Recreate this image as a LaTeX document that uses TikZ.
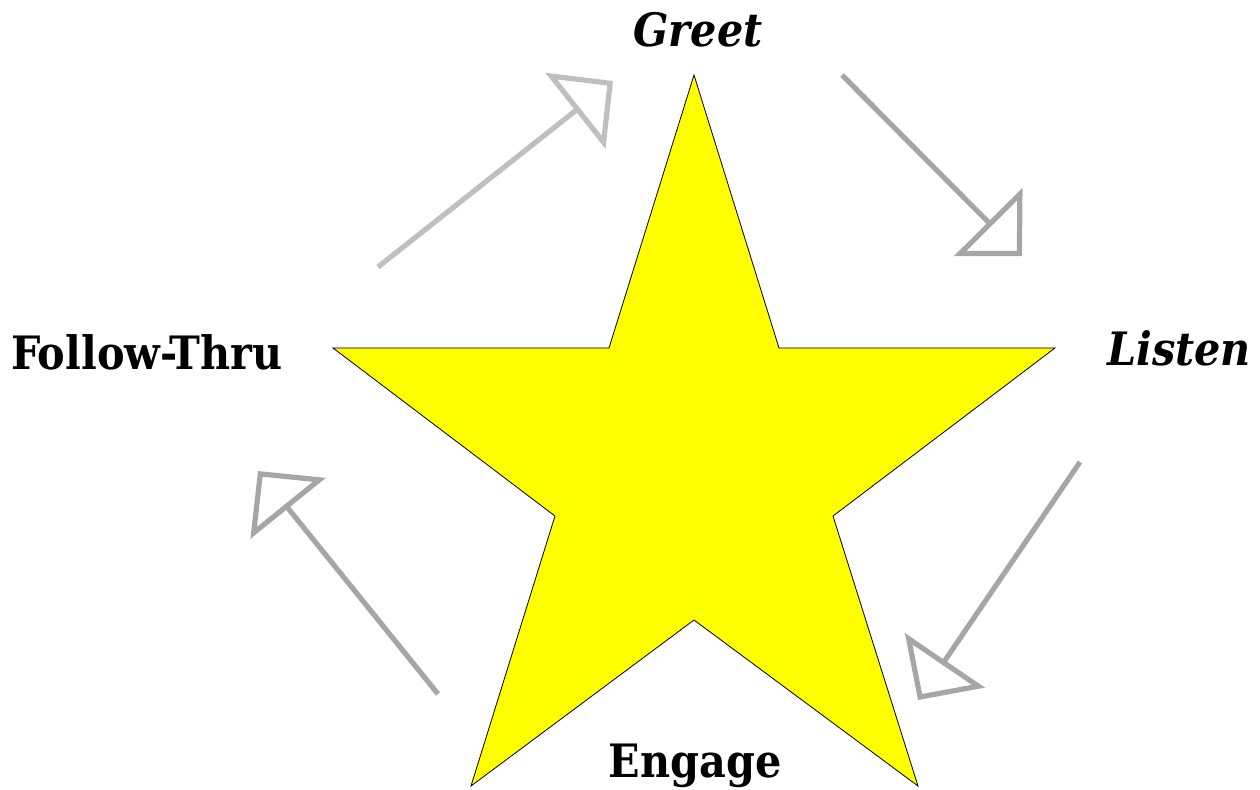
\documentclass[tikz,border=0pt]{standalone}
\usepackage{fontspec}
\setmainfont{DejaVu Serif Condensed}
\usetikzlibrary{arrows.meta}
\definecolor{starYellow}{RGB}{255,255,0}
\definecolor{arrLight}{RGB}{191,191,191}
\definecolor{arrMid}{RGB}{166,166,166}
\tikzset{
  step label/.style={font=\fontsize{23}{26}\selectfont\bfseries},
  cycle arrow/.style={line width=2.6pt, -{Triangle[open, length=24pt, width=48pt, line width=2.6pt]}},
}
\begin{document}
\begin{tikzpicture}[x=0.5pt, y=-0.5pt]
\useasboundingbox (0,0) rectangle (1260,789);
% the star
\draw[fill=starYellow, line width=0.4pt] (694,75) -- (779,348) -- (1055,348) -- (833,516) -- (918,786)
  -- (694,620) -- (471,786) -- (555,516) -- (333,348) -- (609,348) -- cycle;
% labels
\node[step label] (greet) at (698,30) {\itshape Greet};
\node[step label, anchor=east] (listen) at (1258,348) {\itshape Listen};
\node[step label] (engage) at (695,766) {Engage};
\node[step label, anchor=west] (follow) at (4,352) {Follow-Thru};
% arrow ends
\coordinate (a1s) at (378,267);  \coordinate (a1e) at (613,81);
\coordinate (a2s) at (842,75);   \coordinate (a2e) at (1022,256);
\coordinate (a3s) at (1080,462); \coordinate (a3e) at (918,700);
\coordinate (a4s) at (438,694);  \coordinate (a4e) at (258,471);
\draw[cycle arrow, arrLight] (a1s) -- (a1e);
\draw[cycle arrow, arrMid] (a2s) -- (a2e);
\draw[cycle arrow, arrMid] (a3s) -- (a3e);
\draw[cycle arrow, arrMid] (a4s) -- (a4e);
\end{tikzpicture}
\end{document}
